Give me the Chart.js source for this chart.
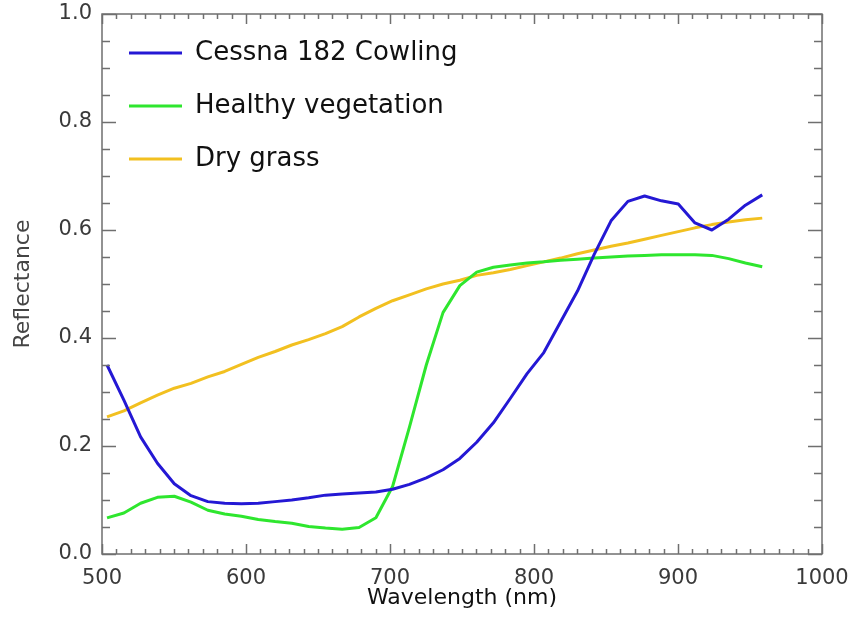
<!DOCTYPE html>
<html>
<head>
<meta charset="utf-8">
<script src="https://cdn.jsdelivr.net/npm/chart.js@4.4.1/dist/chart.umd.min.js"></script>
<style>
  html, body { margin: 0; padding: 0; background: #fff; }
  #wrap { width: 852px; height: 622px; position: relative; }
</style>
</head>
<body>
<div id="wrap"><canvas id="c"></canvas></div>
<script>
const wavelengths = [503.5, 515.2, 526.8, 538.5, 550.2, 561.8, 573.5, 585.2, 596.8, 608.5,
  620.2, 631.8, 643.5, 655.2, 666.8, 678.5, 690.2, 701.8, 713.5, 725.2,
  736.8, 748.5, 760.2, 771.8, 783.5, 795.2, 806.8, 818.5, 830.2, 841.8,
  853.5, 865.2, 876.8, 888.5, 900.2, 911.8, 923.5, 935.2, 946.8, 958.5];

const cessna = [0.350, 0.285, 0.217, 0.168, 0.130, 0.108, 0.097, 0.094, 0.093, 0.094,
  0.097, 0.100, 0.104, 0.109, 0.111, 0.113, 0.115, 0.120, 0.129, 0.141,
  0.156, 0.177, 0.207, 0.243, 0.288, 0.334, 0.373, 0.430, 0.487, 0.555,
  0.617, 0.653, 0.663, 0.654, 0.648, 0.613, 0.600, 0.620, 0.646, 0.665];

const vegetation = [0.067, 0.076, 0.094, 0.105, 0.107, 0.096, 0.081, 0.074, 0.070, 0.064,
  0.060, 0.057, 0.051, 0.048, 0.046, 0.049, 0.067, 0.125, 0.235, 0.350,
  0.447, 0.497, 0.522, 0.531, 0.535, 0.539, 0.541, 0.544, 0.546, 0.548,
  0.550, 0.552, 0.553, 0.554, 0.554, 0.554, 0.553, 0.547, 0.539, 0.532];

const dryGrass = [0.254, 0.265, 0.280, 0.294, 0.307, 0.316, 0.328, 0.338, 0.351, 0.364,
  0.375, 0.387, 0.397, 0.408, 0.421, 0.439, 0.455, 0.469, 0.480, 0.491,
  0.500, 0.507, 0.516, 0.521, 0.527, 0.534, 0.541, 0.548, 0.556, 0.563,
  0.570, 0.576, 0.583, 0.590, 0.597, 0.604, 0.610, 0.615, 0.619, 0.622];

const seriesNames = ['Cessna 182 Cowling', 'Healthy vegetation', 'Dry grass'];
const seriesColors = ['#2418d4', '#2ee62e', '#f2c020'];
const xTickRange = { min: 500, max: 1000, step: 100, minor: 10 };
const yTickRange = { min: 0, max: 1, step: 0.2, minor: 0.05 };

const FONT = 'DejaVu Sans';

function pts(vals) { return wavelengths.map((w, i) => ({ x: w, y: vals[i] })); }

const frameTicks = {
  id: 'frameTicks',
  afterDraw(chart) {
    const { ctx, chartArea: a, scales: { x, y } } = chart;
    ctx.save();
    ctx.strokeStyle = '#6f6f6f';
    ctx.lineWidth = 1.5;
    ctx.strokeRect(a.left, a.top, a.right - a.left, a.bottom - a.top);
    ctx.beginPath();
    const nx = Math.round((xTickRange.max - xTickRange.min) / xTickRange.minor);
    const perX = Math.round(xTickRange.step / xTickRange.minor);
    for (let i = 0; i <= nx; i++) {
      const v = xTickRange.min + i * xTickRange.minor;
      const px = Math.round(x.getPixelForValue(v)) + 0.5;
      const len = (i % perX === 0) ? 10 : 5;
      ctx.moveTo(px, a.bottom); ctx.lineTo(px, a.bottom - len);
      ctx.moveTo(px, a.top); ctx.lineTo(px, a.top + len);
    }
    const ny = Math.round((yTickRange.max - yTickRange.min) / yTickRange.minor);
    const perY = Math.round(yTickRange.step / yTickRange.minor);
    for (let i = 0; i <= ny; i++) {
      const v = yTickRange.min + i * yTickRange.minor;
      const py = Math.round(y.getPixelForValue(v)) + 0.5;
      const len = (i % perY === 0) ? 14 : 8;
      ctx.moveTo(a.left, py); ctx.lineTo(a.left + len, py);
      ctx.moveTo(a.right, py); ctx.lineTo(a.right - len, py);
    }
    ctx.stroke();
    ctx.restore();
  }
};

function makeSet(i, vals) {
  return {
    label: seriesNames[i], data: pts(vals),
    borderColor: seriesColors[i], backgroundColor: seriesColors[i],
    pointBorderColor: seriesColors[i], pointBackgroundColor: seriesColors[i],
    pointBorderWidth: 3, borderWidth: 3
  };
}

new Chart(document.getElementById('c'), {
  type: 'line',
  data: {
    datasets: [makeSet(0, cessna), makeSet(1, vegetation), makeSet(2, dryGrass)]
  },
  options: {
    responsive: true,
    maintainAspectRatio: false,
    animation: false,
    elements: {
      line: { borderWidth: 3, tension: 0, fill: false, borderCapStyle: 'butt', borderJoinStyle: 'round' },
      point: { radius: 0, hoverRadius: 0, borderWidth: 3 }
    },
    layout: { padding: { top: 14, right: 30, left: 0, bottom: 0 } },
    plugins: {
      tooltip: { enabled: false },
      legend: {
        position: 'chartArea',
        align: 'start',
        title: { display: true, text: ' ', font: { size: 10 }, padding: { top: 1, bottom: 0 } },
        labels: {
          usePointStyle: true,
          pointStyle: 'line',
          pointStyleWidth: 53,
          padding: 27,
          color: '#111',
          font: { family: FONT, size: 26 }
        }
      }
    },
    scales: {
      x: {
        type: 'linear',
        min: xTickRange.min,
        max: xTickRange.max,
        ticks: {
          stepSize: xTickRange.step,
          color: '#3a3a3a',
          font: { family: FONT, size: 21 },
          padding: 12,
          maxRotation: 0,
          autoSkip: false,
          callback: (v) => String(v)
        },
        grid: { display: false, drawTicks: false },
        border: { display: false },
        title: {
          display: true,
          text: 'Wavelength (nm)',
          color: '#111',
          font: { family: FONT, size: 22 },
          padding: { top: 0, bottom: 11 }
        },
        afterFit(s) { s.height = 68; s.paddingLeft = 0; s.paddingRight = 0; }
      },
      y: {
        type: 'linear',
        min: yTickRange.min,
        max: yTickRange.max,
        ticks: {
          stepSize: yTickRange.step,
          color: '#3a3a3a',
          font: { family: FONT, size: 21 },
          padding: 10,
          callback: (v) => Number(v).toFixed(1)
        },
        grid: { display: false, drawTicks: false },
        border: { display: false },
        title: {
          display: true,
          text: 'Reflectance',
          color: '#444',
          font: { family: FONT, size: 22 },
          padding: { top: 10, bottom: 0 }
        },
        afterFit(s) { s.width = 102; s.paddingTop = 0; s.paddingBottom = 0; }
      }
    }
  },
  plugins: [frameTicks]
});
</script>
</body>
</html>
